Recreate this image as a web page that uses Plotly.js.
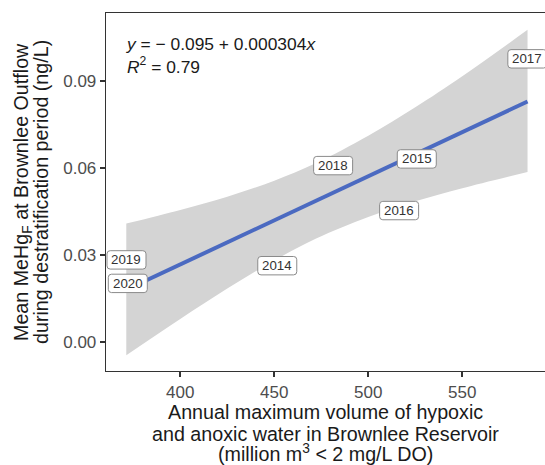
<!DOCTYPE html>
<html>
<head>
<meta charset="utf-8">
<script src="https://cdn.plot.ly/plotly-3.0.1.min.js"></script>
<style>html,body{margin:0;padding:0;overflow:hidden;background:#fff;}#chart{width:545px;height:465px;}</style>
</head>
<body>
<div id="chart"></div>
<script>
// ---- data ----
const years = ["2014", "2015", "2016", "2017", "2018", "2019", "2020"];
const hypoxicVolume = [451.6, 525.8, 516.4, 584.6, 481.3, 371.4, 372.1];
const meanMeHg = [0.0262, 0.0630, 0.0452, 0.0975, 0.0607, 0.0282, 0.0201];

const fitX = [371.3, 584.7];
const fitY = [0.0179, 0.0828];

const bandX = [371.3, 400, 425, 450, 472, 500, 525, 550, 584.7];
const bandLower = [-0.0047, 0.0078, 0.0183, 0.0280, 0.0355, 0.0430, 0.0484, 0.0529, 0.0585];
const bandUpper = [0.0407, 0.0454, 0.0500, 0.0555, 0.0615, 0.0710, 0.0808, 0.0915, 0.1075];

const intercept = -0.095;
const slope = 0.000304;
const r2 = 0.79;

const xTickVals = [400, 450, 500, 550];
const xTickText = ["400", "450", "500", "550"];
const yTickVals = [0.00, 0.03, 0.06, 0.09];
const yTickText = ["0.00", "0.03", "0.06", "0.09"];

const xTitleLines = ["Annual maximum volume of hypoxic",
                     "and anoxic water in Brownlee Reservoir",
                     "(million m<sup>3</sup> &lt; 2 mg/L DO)"];
const yTitleLines = ["Mean MeHg<sub>F</sub> at Brownlee Outflow",
                     "during destratification period (ng/L)"];

// ---- chart ----
const FONT = '"Liberation Sans", Arial, Helvetica, sans-serif';
const W = 545, H = 465, ML = 106, MR = 0, MT = 13, MB = 94;
const PW = W - ML - MR, PH = H - MT - MB;
const px2paperX = p => (p - ML) / PW;
const px2paperY = p => (H - MB - p) / PH;

const traces = [
  {x: bandX, y: bandLower, type: 'scatter', mode: 'lines',
   line: {width: 0, shape: 'spline'}, hoverinfo: 'skip', showlegend: false},
  {x: bandX, y: bandUpper, type: 'scatter', mode: 'lines', fill: 'tonexty',
   fillcolor: 'rgb(212,212,212)', line: {width: 0, shape: 'spline'},
   hoverinfo: 'skip', showlegend: false},
  {x: fitX, y: fitY, type: 'scatter', mode: 'lines',
   line: {color: '#4B6AC1', width: 4}, showlegend: false}
];

const bw = 19.5, bh = 9.2, rr = 3.2;
const boxPath = `M ${-bw},${-bh + rr} Q ${-bw},${-bh} ${-bw + rr},${-bh} L ${bw - rr},${-bh} Q ${bw},${-bh} ${bw},${-bh + rr} L ${bw},${bh - rr} Q ${bw},${bh} ${bw - rr},${bh} L ${-bw + rr},${bh} Q ${-bw},${bh} ${-bw},${bh - rr} Z`;

const shapes = years.map((yr, i) => ({
  type: 'path', xref: 'x', yref: 'y',
  xsizemode: 'pixel', ysizemode: 'pixel',
  xanchor: hypoxicVolume[i], yanchor: meanMeHg[i],
  path: boxPath, fillcolor: '#ffffff',
  line: {color: '#8a8a8a', width: 1}, layer: 'above'
}));

const annotations = years.map((yr, i) => ({
  x: hypoxicVolume[i], y: meanMeHg[i], xref: 'x', yref: 'y',
  text: yr, showarrow: false, xanchor: 'center', yanchor: 'middle',
  font: {family: FONT, size: 13.3, color: '#333333'}
}));

const sign = intercept < 0 ? '\u2212 ' : '+ ';
annotations.push({
  xref: 'paper', yref: 'paper', x: px2paperX(124), y: px2paperY(32),
  xanchor: 'left', yanchor: 'top', align: 'left', showarrow: false,
  text: `<i>y</i> = ${sign}${Math.abs(intercept).toFixed(3)} + ${slope.toFixed(6)}<i>x</i><br><i>R</i><sup>2</sup> = ${r2.toFixed(2)}`,
  font: {family: FONT, size: 17.4, color: '#1a1a1a'}
});

const xTitleY = [412, 434, 452.5];
xTitleLines.forEach((t, i) => annotations.push({
  xref: 'paper', yref: 'paper', x: 0.5, y: px2paperY(xTitleY[i]),
  xanchor: 'center', yanchor: 'middle', showarrow: false, text: t,
  font: {family: FONT, size: 19.7, color: '#1a1a1a'}
}));

const yTitleX = [22, 41];
yTitleLines.forEach((t, i) => annotations.push({
  xref: 'paper', yref: 'paper', x: px2paperX(yTitleX[i]), y: 0.5,
  xanchor: 'center', yanchor: 'middle', showarrow: false, text: t, textangle: -90,
  font: {family: FONT, size: 19.7, color: '#1a1a1a'}
}));

const axisCommon = {
  showgrid: false, zeroline: false, showline: true, mirror: true,
  linecolor: '#333333', linewidth: 1.3,
  ticks: 'outside', ticklen: 5, tickwidth: 2, tickcolor: '#333333',
  tickfont: {family: FONT, size: 17, color: '#4d4d4d'}
};

const layout = {
  width: W, height: H,
  margin: {l: ML, r: MR, t: MT, b: MB, pad: 0},
  paper_bgcolor: '#ffffff', plot_bgcolor: '#ffffff',
  font: {family: FONT},
  showlegend: false,
  xaxis: Object.assign({range: [360.5, 594], tickvals: xTickVals, ticktext: xTickText}, axisCommon),
  yaxis: Object.assign({range: [-0.0101, 0.1133], tickvals: yTickVals, ticktext: yTickText}, axisCommon),
  shapes: shapes,
  annotations: annotations
};

Plotly.newPlot('chart', traces, layout, {displayModeBar: false, staticPlot: true});
</script>
</body>
</html>
